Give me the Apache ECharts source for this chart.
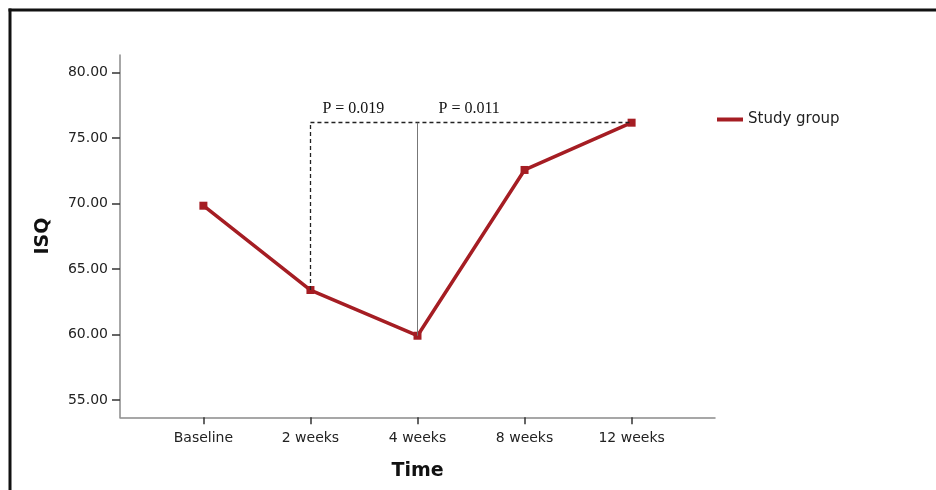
<!DOCTYPE html>
<html>
<head>
<meta charset="utf-8">
<script src="https://cdn.jsdelivr.net/npm/echarts@6/dist/echarts.min.js"></script>
<style>
html,body{margin:0;padding:0;background:#fff;}
#chart{width:936px;height:490px;}
</style>
</head>
<body>
<div id="chart"></div>
<script>
var categories = ['Baseline', '2 weeks', '4 weeks', '8 weeks', '12 weeks'];
var studyGroup = [69.84, 63.40, 59.91, 72.57, 76.18];
var yTicks = [55, 60, 65, 70, 75, 80];
var pLabels = ['P = 0.019', 'P = 0.011'];

var RED = '#a51d23';
var points = studyGroup.map(function (v, i) { return [i, v]; });
var topY = studyGroup[4];

var chart = echarts.init(document.getElementById('chart'));
var frame = [
  { type: 'line', shape: { x1: 8.5, y1: 10, x2: 936, y2: 10 }, style: { stroke: '#111', lineWidth: 3 } },
  { type: 'line', shape: { x1: 10, y1: 8.5, x2: 10, y2: 490 }, style: { stroke: '#111', lineWidth: 3 } }
];
var option = {
  animation: false,
  backgroundColor: '#fff',
  grid: { left: 120, right: 221, top: 55, bottom: 72.7 },
  legend: {
    left: 717, top: 112, padding: 0,
    icon: 'rect', itemWidth: 26, itemHeight: 4, itemGap: 10,
    data: ['Study group'],
    textStyle: { fontFamily: 'DejaVu Sans', fontSize: 15, color: '#222' }
  },
  xAxis: {
    type: 'value', min: -0.779, max: 4.779,
    splitLine: { show: false },
    axisLine: { show: true, onZero: false, lineStyle: { color: '#8a8a8a', width: 1.5 } },
    axisTick: { show: true, customValues: [0, 1, 2, 3, 4], length: 7, lineStyle: { color: '#333', width: 1.5 } },
    axisLabel: {
      customValues: [0, 1, 2, 3, 4], margin: 14,
      formatter: function (v) { return categories[Math.round(v)]; },
      fontFamily: 'DejaVu Sans', fontSize: 14, color: '#222'
    },
    name: 'Time', nameLocation: 'middle', nameGap: 44,
    nameTextStyle: { fontFamily: 'DejaVu Sans', fontWeight: 'bold', fontSize: 19, color: '#111' }
  },
  yAxis: {
    type: 'value', min: 53.68, max: 81.35,
    splitLine: { show: false },
    axisLine: { show: true, onZero: false, lineStyle: { color: '#8a8a8a', width: 1.5 } },
    axisTick: { show: true, customValues: yTicks, length: 8, lineStyle: { color: '#333', width: 1.5 } },
    axisLabel: {
      customValues: yTicks, margin: 12,
      formatter: function (v) { return v.toFixed(2); },
      fontFamily: 'DejaVu Sans', fontSize: 14, color: '#222'
    },
    name: 'ISQ', nameLocation: 'middle', nameGap: 67,
    nameTextStyle: { fontFamily: 'DejaVu Sans', fontWeight: 'bold', fontSize: 19, color: '#111' }
  },
  series: [
    {
      name: 'guides', type: 'line', data: [], silent: true,
      markLine: {
        silent: true, symbol: ['none', 'none'], animation: false,
        label: { show: false },
        data: [
          [{ coord: [1, studyGroup[1]], lineStyle: { type: [4, 3], color: '#222', width: 1.3 } }, { coord: [1, topY] }],
          [{ coord: [1, topY], lineStyle: { type: [4, 3], color: '#222', width: 1.3 } }, { coord: [4, topY] }],
          [{ coord: [2, studyGroup[2]], lineStyle: { type: 'solid', color: '#777', width: 1 } }, { coord: [2, topY] }]
        ]
      }
    },
    {
      name: 'Study group', type: 'line', data: points,
      color: RED,
      lineStyle: { color: RED, width: 3.5 },
      symbol: 'rect', symbolSize: 8, showSymbol: true,
      itemStyle: { color: RED },
      z: 3
    }
  ],
  graphic: frame
};
chart.setOption(option);

var p1 = chart.convertToPixel({ gridIndex: 0 }, [1, topY]);
var p2 = chart.convertToPixel({ gridIndex: 0 }, [2, topY]);
chart.setOption({
  graphic: frame.concat([
    { type: 'text', x: p1[0] + 12, y: p1[1] - 6, style: { text: pLabels[0], font: '16px "Liberation Serif"', fill: '#111', textVerticalAlign: 'bottom' } },
    { type: 'text', x: p2[0] + 21, y: p2[1] - 6, style: { text: pLabels[1], font: '16px "Liberation Serif"', fill: '#111', textVerticalAlign: 'bottom' } }
  ])
});
</script>
</body>
</html>
